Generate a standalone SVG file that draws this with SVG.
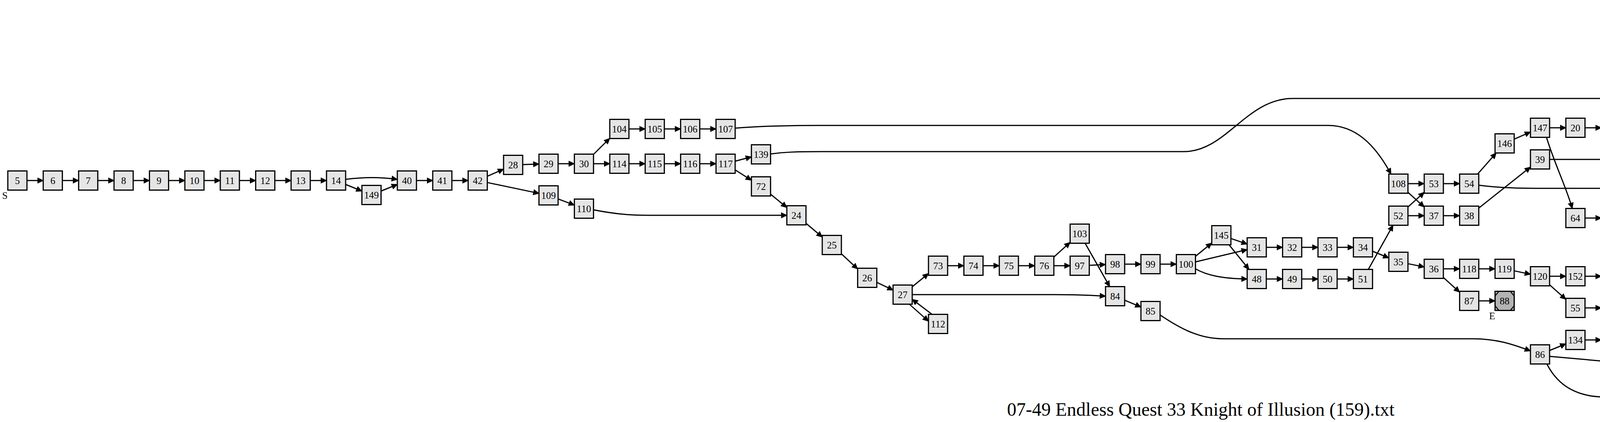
<svg xmlns="http://www.w3.org/2000/svg" width="6148" height="1080" viewBox="0 0 6148 1080">
<style>
.node rect{fill:#e5e5e5;stroke:#000;stroke-width:3}
.end rect{fill:#b3b3b3}
.node text{font-family:"Liberation Serif","Times New Roman",serif;font-size:25px;text-anchor:middle;fill:#000}
#edges path{fill:none;stroke:#000;stroke-width:3;marker-end:url(#ah)}
.title{font-family:"Liberation Serif","Times New Roman",serif;font-size:48px;text-anchor:middle;fill:#000}
</style>
<defs>
<marker id="ah" markerUnits="userSpaceOnUse" markerWidth="18" markerHeight="16" refX="14" refY="6.5" orient="auto" overflow="visible"><path d="M0,0 L14,6.5 L0,13 Z" fill="#000" stroke="#000" stroke-width="1.5"/></marker>
<polygon id="oct" points="-14.5,-24.5 14.5,-24.5 24.5,-12.5 24.5,12.5 14.5,24.5 -14.5,24.5 -24.5,12.5 -24.5,-12.5" fill="none" stroke="#000" stroke-width="2.5"/>
</defs>
<rect width="6148" height="1080" fill="#fff"/>
<g id="edges">
<path d="M69,462 L110.65,462"/>
<path d="M159.65,462 L201.3,462"/>
<path d="M250.3,462 L291.95,462"/>
<path d="M340.95,462 L382.6,462"/>
<path d="M431.6,462 L473.25,462"/>
<path d="M522.25,462 L563.9,462"/>
<path d="M612.9,462 L654.55,462"/>
<path d="M703.55,462 L745.2,462"/>
<path d="M794.2,462 L835.85,462"/>
<path d="M884.85,459 C930,453 975,453 1017.15,459"/>
<path d="M884.85,472 L926.5,489"/>
<path d="M975.5,489 L1017.15,472"/>
<path d="M1066.15,462 L1107.8,462"/>
<path d="M1156.8,462 L1198.45,462"/>
<path d="M1247.45,451.2 L1289.1,432.8"/>
<path d="M1247.45,467.1 L1379.75,494.9"/>
<path d="M1338.1,421.2 L1379.75,419.8"/>
<path d="M1428.75,419 L1470.4,419"/>
<path d="M1519.4,395 L1561.05,354"/>
<path d="M1519.4,419 L1561.05,419"/>
<path d="M1610.05,330 L1651.7,330"/>
<path d="M1700.7,330 L1742.35,330"/>
<path d="M1791.35,330 L1833,330"/>
<path d="M1610.05,419 L1651.7,419"/>
<path d="M1700.7,419 L1742.35,419"/>
<path d="M1791.35,419 L1833,419"/>
<path d="M1882,412.5 L1923.65,401.5"/>
<path d="M1882,434.7 L1923.65,461.3"/>
<path d="M1972.65,497 L2014.3,531"/>
<path d="M1428.75,509.2 L1470.4,524.8"/>
<path d="M1519.4,537 C1570,547 1610,551 1660,551 L2014.3,551"/>
<path d="M1882,328 C1950,322 2020,321 2100,321 L3400,321 C3470,321 3520,370 3561,445.5"/>
<path d="M1972.65,394 C2010,389 2040,388 2100,388 L3030,388 C3140,388 3190,252 3310,252 L4643.15,252"/>
<path d="M2063.3,571.5 L2104.95,606.5"/>
<path d="M2153.95,649.7 L2195.6,688.3"/>
<path d="M2244.6,722.6 L2286.25,742.4"/>
<path d="M2335.25,734 L2376.9,700"/>
<path d="M2328,778.5 L2376.9,822"/>
<path d="M2386,804.5 L2335.25,766"/>
<path d="M2335.25,754 L2700,754 C2760,754 2800,756 2830.15,758"/>
<path d="M2425.9,680 L2467.55,680"/>
<path d="M2516.55,680 L2558.2,680"/>
<path d="M2607.2,680 L2648.85,680"/>
<path d="M2697.85,657.8 L2739.5,620.2"/>
<path d="M2697.85,680 L2739.5,680"/>
<path d="M2788.5,679 L2830.15,677"/>
<path d="M2777.9,622.5 L2840.8,733.5"/>
<path d="M2879.15,676 L2920.8,676"/>
<path d="M2969.8,676 L3011.45,676"/>
<path d="M2879.15,768.3 L2920.8,785.7"/>
<path d="M2969.8,806 C3020,840 3070,867 3130,867 L3770,867 C3830,867 3870,880 3917.95,898"/>
<path d="M3060.45,656 L3102.1,622"/>
<path d="M3060.45,670.2 L3192.75,638.8"/>
<path d="M3060.45,688 C3090,705 3130,713 3192.75,714"/>
<path d="M3151.1,610.4 L3192.75,624.6"/>
<path d="M3146.4,626.5 L3197.4,689.5"/>
<path d="M3241.75,633 L3283.4,633"/>
<path d="M3332.4,633 L3374.05,633"/>
<path d="M3423.05,633 L3464.7,633"/>
<path d="M3241.75,714 L3283.4,714"/>
<path d="M3332.4,714 L3374.05,714"/>
<path d="M3423.05,714 L3464.7,714"/>
<path d="M3513.7,643 L3555.35,660"/>
<path d="M3502.9,689.5 L3566.1,576.5"/>
<path d="M3604.35,470 L3646,470"/>
<path d="M3604.35,492.2 L3646,529.8"/>
<path d="M3604.35,529.8 L3646,492.2"/>
<path d="M3604.35,552 L3646,552"/>
<path d="M3695,470 L3736.65,470"/>
<path d="M3695,552 L3736.65,552"/>
<path d="M3782.7,445.5 L3830.2,391.5"/>
<path d="M3785.65,474 C3830,480 3870,482 3930,482 L4300,482 C4420,482 4500,540 4560,614.5"/>
<path d="M3785.65,532.5 L3917.95,427.5"/>
<path d="M3876.3,356.2 L3917.95,337.8"/>
<path d="M3966.95,327 L4008.6,327"/>
<path d="M3959,351.5 C3980,420 4010,480 4025,533.5"/>
<path d="M3966.95,408 L4371.2,408"/>
<path d="M3604.35,674.9 L3646,683.1"/>
<path d="M3695,688 L3736.65,688"/>
<path d="M3695,710.2 L3736.65,747.8"/>
<path d="M3785.65,770 L3827.3,770"/>
<path d="M3785.65,688 L3827.3,688"/>
<path d="M3876.3,693.1 L3917.95,701.9"/>
<path d="M3966.95,707 L4008.6,707"/>
<path d="M3966.95,728.9 L4008.6,766.1"/>
<path d="M4057.6,707 L4099.25,707"/>
<path d="M4148.25,707 L4189.9,707"/>
<path d="M4057.6,788 L4099.25,788"/>
<path d="M4148.25,788 L4189.9,788"/>
<path d="M4238.9,785.3 L4280.55,780.7"/>
<path d="M4329.55,795 C4370,825 4410,855 4461.85,868"/>
<path d="M3966.95,897 L4008.6,880"/>
<path d="M3966.95,912 L4280.55,940"/>
<path d="M3960,931.5 C3990,990 4040,1016 4110,1016 L4260,1016 C4335,1016 4358,985 4361,920 L4363,670 C4364,635 4370,605 4377,582.5"/>
<path d="M4057.6,870 L4099.25,870"/>
<path d="M4148.25,870 L4189.9,870"/>
<path d="M4238.9,867 L4280.55,862"/>
<path d="M4238.9,888.9 L4280.55,921.1"/>
<path d="M4320,915.5 L4380.8,815.5"/>
<path d="M4420.2,790 L4461.85,789"/>
<path d="M4501.2,763.5 L4562.1,663.5"/>
<path d="M4057.6,327 L4099.25,327"/>
<path d="M4148.25,327 L4189.9,327"/>
<path d="M4238.9,327 L4280.55,327"/>
<path d="M4329.55,327 L4461.85,327"/>
<path d="M4329.55,348.9 L4371.2,386.1"/>
<path d="M4510.85,327 L4552.5,327"/>
<path d="M4601.5,327 L4850,327 C4920,327 4960,335 5005.75,344"/>
<path d="M4420.2,413 L4733.8,480"/>
<path d="M4057.6,558 L4099.25,558"/>
<path d="M4148.25,558 L4189.9,558"/>
<path d="M4238.9,558 L4280.55,558"/>
<path d="M4329.55,558 L4371.2,558"/>
<path d="M4148.25,572.7 L4280.55,652.3"/>
<path d="M4329.55,579.9 L4371.2,617.1"/>
<path d="M4420.2,539.6 L4461.85,508.4"/>
<path d="M4510.85,490 L4552.5,490"/>
<path d="M4420.2,639 L4461.85,639"/>
<path d="M4510.85,639 L4552.5,639"/>
<path d="M4329.55,672 C4380,690 4420,693 4460,690 C4500,687 4530,678 4562,663.5"/>
<path d="M4586.4,614.5 L4658.2,427.5"/>
<path d="M4692.15,403 L4733.8,403"/>
<path d="M4782.8,403 L4824.45,403"/>
<path d="M4873.45,403 L4915.1,403"/>
<path d="M4692.15,424.6 L4733.8,461.4"/>
<path d="M4782.8,483 L4824.45,483"/>
<path d="M4873.45,483 L4915.1,483"/>
<path d="M4964.1,473.8 L5005.75,458.2"/>
<path d="M4510,845.5 L4644,706.5"/>
<path d="M4692.15,672 C4730,645 4770,627 4840,627 L5120,627 C5200,627 5250,590 5270,540 C5285,505 5290,480 5294,458.5"/>
<path d="M5049.6,424.5 L5101.6,358.5"/>
<path d="M5054.75,440.1 L5096.4,424.9"/>
<path d="M5054.75,461.7 L5096.4,483.3"/>
<path d="M5054.75,368.6 L5096.4,398.4"/>
<path d="M5145.4,356.2 L5187.05,393.8"/>
<path d="M5135,391.5 L5199,208.5"/>
<path d="M5135,471.5 L5196,358.5"/>
<path d="M5236.05,334 L5277.7,334"/>
<path d="M5326.7,330.4 L5368.35,319.6"/>
<path d="M5236.05,419.6 L5277.7,430.4"/>
<path d="M5326.7,434 L5368.35,434"/>
<path d="M5417.35,434 L5459,434"/>
<path d="M5508,434 L5549.65,434"/>
<path d="M5598.65,434 L5640.3,434"/>
<path d="M5689.3,434 L5730.95,434"/>
<path d="M5779.95,434 L5821.6,434"/>
<path d="M5870.6,434 L5912.25,434"/>
<path d="M5961.25,422.9 L6002.9,404.1"/>
<path d="M5961.25,444.8 L6002.9,463.2"/>
<path d="M6051.9,393 L6093.55,393"/>
<path d="M6051.9,474 L6093.55,474"/>
<path d="M5417.35,316 L5459,316"/>
<path d="M5508,316 L5549.65,316"/>
<path d="M4692.15,233.6 L4733.8,202.4"/>
<path d="M4692.15,254 C4740,257 4770,258 4820,258 L5210,258 C5280,258 5330,275 5368.35,303"/>
<path d="M4782.8,184 L4824.45,184"/>
<path d="M4873.45,184 L4915.1,184"/>
<path d="M4964.1,184 L5005.75,184"/>
<path d="M5054.75,184 L5096.4,184"/>
<path d="M5145.4,184 L5187.05,184"/>
<path d="M5140,159.5 C5180,120 5260,109 5350,109 L5459,109"/>
<path d="M5226.4,159.5 L5287.3,59.5"/>
<path d="M5326.7,35 L5368.35,35"/>
<path d="M5417.35,33.4 L5459,30.6"/>
<path d="M5417.35,55.3 L5459,89.7"/>
<path d="M5508,29 L5549.65,29"/>
<path d="M5598.65,29 L5640.3,29"/>
<path d="M5689.3,29 L5730.95,29"/>
<path d="M5779.95,29 L5821.6,29"/>
<path d="M5870.6,29 L5912.25,29"/>
<path d="M5961.25,29 L6002.9,29"/>
<path d="M5508,110 L5549.65,110"/>
<path d="M5598.65,110 L5640.3,110"/>
<path d="M5689.3,110 L5730.95,110"/>
</g>
<g id="nodes">
<g id="n5" class="node" transform="translate(44.5,462)"><rect x="-24.5" y="-24.5" width="49" height="49"/><text y="9">5</text><text x="-32" y="46.5">S</text></g>
<g id="n6" class="node" transform="translate(135.15,462)"><rect x="-24.5" y="-24.5" width="49" height="49"/><text y="9">6</text></g>
<g id="n7" class="node" transform="translate(225.8,462)"><rect x="-24.5" y="-24.5" width="49" height="49"/><text y="9">7</text></g>
<g id="n8" class="node" transform="translate(316.45,462)"><rect x="-24.5" y="-24.5" width="49" height="49"/><text y="9">8</text></g>
<g id="n9" class="node" transform="translate(407.1,462)"><rect x="-24.5" y="-24.5" width="49" height="49"/><text y="9">9</text></g>
<g id="n10" class="node" transform="translate(497.75,462)"><rect x="-24.5" y="-24.5" width="49" height="49"/><text y="9">10</text></g>
<g id="n11" class="node" transform="translate(588.4,462)"><rect x="-24.5" y="-24.5" width="49" height="49"/><text y="9">11</text></g>
<g id="n12" class="node" transform="translate(679.05,462)"><rect x="-24.5" y="-24.5" width="49" height="49"/><text y="9">12</text></g>
<g id="n13" class="node" transform="translate(769.7,462)"><rect x="-24.5" y="-24.5" width="49" height="49"/><text y="9">13</text></g>
<g id="n14" class="node" transform="translate(860.35,462)"><rect x="-24.5" y="-24.5" width="49" height="49"/><text y="9">14</text></g>
<g id="n149" class="node" transform="translate(951,499)"><rect x="-24.5" y="-24.5" width="49" height="49"/><text y="9">149</text></g>
<g id="n40" class="node" transform="translate(1041.65,462)"><rect x="-24.5" y="-24.5" width="49" height="49"/><text y="9">40</text></g>
<g id="n41" class="node" transform="translate(1132.3,462)"><rect x="-24.5" y="-24.5" width="49" height="49"/><text y="9">41</text></g>
<g id="n42" class="node" transform="translate(1222.95,462)"><rect x="-24.5" y="-24.5" width="49" height="49"/><text y="9">42</text></g>
<g id="n28" class="node" transform="translate(1313.6,422)"><rect x="-24.5" y="-24.5" width="49" height="49"/><text y="9">28</text></g>
<g id="n109" class="node" transform="translate(1404.25,500)"><rect x="-24.5" y="-24.5" width="49" height="49"/><text y="9">109</text></g>
<g id="n29" class="node" transform="translate(1404.25,419)"><rect x="-24.5" y="-24.5" width="49" height="49"/><text y="9">29</text></g>
<g id="n30" class="node" transform="translate(1494.9,419)"><rect x="-24.5" y="-24.5" width="49" height="49"/><text y="9">30</text></g>
<g id="n110" class="node" transform="translate(1494.9,534)"><rect x="-24.5" y="-24.5" width="49" height="49"/><text y="9">110</text></g>
<g id="n104" class="node" transform="translate(1585.55,330)"><rect x="-24.5" y="-24.5" width="49" height="49"/><text y="9">104</text></g>
<g id="n114" class="node" transform="translate(1585.55,419)"><rect x="-24.5" y="-24.5" width="49" height="49"/><text y="9">114</text></g>
<g id="n105" class="node" transform="translate(1676.2,330)"><rect x="-24.5" y="-24.5" width="49" height="49"/><text y="9">105</text></g>
<g id="n115" class="node" transform="translate(1676.2,419)"><rect x="-24.5" y="-24.5" width="49" height="49"/><text y="9">115</text></g>
<g id="n106" class="node" transform="translate(1766.85,330)"><rect x="-24.5" y="-24.5" width="49" height="49"/><text y="9">106</text></g>
<g id="n116" class="node" transform="translate(1766.85,419)"><rect x="-24.5" y="-24.5" width="49" height="49"/><text y="9">116</text></g>
<g id="n107" class="node" transform="translate(1857.5,330)"><rect x="-24.5" y="-24.5" width="49" height="49"/><text y="9">107</text></g>
<g id="n117" class="node" transform="translate(1857.5,419)"><rect x="-24.5" y="-24.5" width="49" height="49"/><text y="9">117</text></g>
<g id="n139" class="node" transform="translate(1948.15,395)"><rect x="-24.5" y="-24.5" width="49" height="49"/><text y="9">139</text></g>
<g id="n72" class="node" transform="translate(1948.15,477)"><rect x="-24.5" y="-24.5" width="49" height="49"/><text y="9">72</text></g>
<g id="n24" class="node" transform="translate(2038.8,551)"><rect x="-24.5" y="-24.5" width="49" height="49"/><text y="9">24</text></g>
<g id="n25" class="node" transform="translate(2129.45,627)"><rect x="-24.5" y="-24.5" width="49" height="49"/><text y="9">25</text></g>
<g id="n26" class="node" transform="translate(2220.1,711)"><rect x="-24.5" y="-24.5" width="49" height="49"/><text y="9">26</text></g>
<g id="n27" class="node" transform="translate(2310.75,754)"><rect x="-24.5" y="-24.5" width="49" height="49"/><text y="9">27</text></g>
<g id="n73" class="node" transform="translate(2401.4,680)"><rect x="-24.5" y="-24.5" width="49" height="49"/><text y="9">73</text></g>
<g id="n112" class="node" transform="translate(2401.4,829)"><rect x="-24.5" y="-24.5" width="49" height="49"/><text y="9">112</text></g>
<g id="n74" class="node" transform="translate(2492.05,680)"><rect x="-24.5" y="-24.5" width="49" height="49"/><text y="9">74</text></g>
<g id="n75" class="node" transform="translate(2582.7,680)"><rect x="-24.5" y="-24.5" width="49" height="49"/><text y="9">75</text></g>
<g id="n76" class="node" transform="translate(2673.35,680)"><rect x="-24.5" y="-24.5" width="49" height="49"/><text y="9">76</text></g>
<g id="n103" class="node" transform="translate(2764,598)"><rect x="-24.5" y="-24.5" width="49" height="49"/><text y="9">103</text></g>
<g id="n97" class="node" transform="translate(2764,680)"><rect x="-24.5" y="-24.5" width="49" height="49"/><text y="9">97</text></g>
<g id="n98" class="node" transform="translate(2854.65,676)"><rect x="-24.5" y="-24.5" width="49" height="49"/><text y="9">98</text></g>
<g id="n84" class="node" transform="translate(2854.65,758)"><rect x="-24.5" y="-24.5" width="49" height="49"/><text y="9">84</text></g>
<g id="n99" class="node" transform="translate(2945.3,676)"><rect x="-24.5" y="-24.5" width="49" height="49"/><text y="9">99</text></g>
<g id="n85" class="node" transform="translate(2945.3,796)"><rect x="-24.5" y="-24.5" width="49" height="49"/><text y="9">85</text></g>
<g id="n100" class="node" transform="translate(3035.95,676)"><rect x="-24.5" y="-24.5" width="49" height="49"/><text y="9">100</text></g>
<g id="n145" class="node" transform="translate(3126.6,602)"><rect x="-24.5" y="-24.5" width="49" height="49"/><text y="9">145</text></g>
<g id="n31" class="node" transform="translate(3217.25,633)"><rect x="-24.5" y="-24.5" width="49" height="49"/><text y="9">31</text></g>
<g id="n48" class="node" transform="translate(3217.25,714)"><rect x="-24.5" y="-24.5" width="49" height="49"/><text y="9">48</text></g>
<g id="n32" class="node" transform="translate(3307.9,633)"><rect x="-24.5" y="-24.5" width="49" height="49"/><text y="9">32</text></g>
<g id="n49" class="node" transform="translate(3307.9,714)"><rect x="-24.5" y="-24.5" width="49" height="49"/><text y="9">49</text></g>
<g id="n33" class="node" transform="translate(3398.55,633)"><rect x="-24.5" y="-24.5" width="49" height="49"/><text y="9">33</text></g>
<g id="n50" class="node" transform="translate(3398.55,714)"><rect x="-24.5" y="-24.5" width="49" height="49"/><text y="9">50</text></g>
<g id="n34" class="node" transform="translate(3489.2,633)"><rect x="-24.5" y="-24.5" width="49" height="49"/><text y="9">34</text></g>
<g id="n51" class="node" transform="translate(3489.2,714)"><rect x="-24.5" y="-24.5" width="49" height="49"/><text y="9">51</text></g>
<g id="n108" class="node" transform="translate(3579.85,470)"><rect x="-24.5" y="-24.5" width="49" height="49"/><text y="9">108</text></g>
<g id="n52" class="node" transform="translate(3579.85,552)"><rect x="-24.5" y="-24.5" width="49" height="49"/><text y="9">52</text></g>
<g id="n35" class="node" transform="translate(3579.85,670)"><rect x="-24.5" y="-24.5" width="49" height="49"/><text y="9">35</text></g>
<g id="n53" class="node" transform="translate(3670.5,470)"><rect x="-24.5" y="-24.5" width="49" height="49"/><text y="9">53</text></g>
<g id="n37" class="node" transform="translate(3670.5,552)"><rect x="-24.5" y="-24.5" width="49" height="49"/><text y="9">37</text></g>
<g id="n36" class="node" transform="translate(3670.5,688)"><rect x="-24.5" y="-24.5" width="49" height="49"/><text y="9">36</text></g>
<g id="n54" class="node" transform="translate(3761.15,470)"><rect x="-24.5" y="-24.5" width="49" height="49"/><text y="9">54</text></g>
<g id="n38" class="node" transform="translate(3761.15,552)"><rect x="-24.5" y="-24.5" width="49" height="49"/><text y="9">38</text></g>
<g id="n118" class="node" transform="translate(3761.15,688)"><rect x="-24.5" y="-24.5" width="49" height="49"/><text y="9">118</text></g>
<g id="n87" class="node" transform="translate(3761.15,770)"><rect x="-24.5" y="-24.5" width="49" height="49"/><text y="9">87</text></g>
<g id="n146" class="node" transform="translate(3851.8,367)"><rect x="-24.5" y="-24.5" width="49" height="49"/><text y="9">146</text></g>
<g id="n119" class="node" transform="translate(3851.8,688)"><rect x="-24.5" y="-24.5" width="49" height="49"/><text y="9">119</text></g>
<g id="n88" class="node end" transform="translate(3851.8,770)"><rect x="-24.5" y="-24.5" width="49" height="49"/><use href="#oct"/><text y="9">88</text><text x="-32" y="46.5">E</text></g>
<g id="n147" class="node" transform="translate(3942.45,327)"><rect x="-24.5" y="-24.5" width="49" height="49"/><text y="9">147</text></g>
<g id="n39" class="node" transform="translate(3942.45,408)"><rect x="-24.5" y="-24.5" width="49" height="49"/><text y="9">39</text></g>
<g id="n120" class="node" transform="translate(3942.45,707)"><rect x="-24.5" y="-24.5" width="49" height="49"/><text y="9">120</text></g>
<g id="n86" class="node" transform="translate(3942.45,907)"><rect x="-24.5" y="-24.5" width="49" height="49"/><text y="9">86</text></g>
<g id="n20" class="node" transform="translate(4033.1,327)"><rect x="-24.5" y="-24.5" width="49" height="49"/><text y="9">20</text></g>
<g id="n64" class="node" transform="translate(4033.1,558)"><rect x="-24.5" y="-24.5" width="49" height="49"/><text y="9">64</text></g>
<g id="n152" class="node" transform="translate(4033.1,707)"><rect x="-24.5" y="-24.5" width="49" height="49"/><text y="9">152</text></g>
<g id="n55" class="node" transform="translate(4033.1,788)"><rect x="-24.5" y="-24.5" width="49" height="49"/><text y="9">55</text></g>
<g id="n134" class="node" transform="translate(4033.1,870)"><rect x="-24.5" y="-24.5" width="49" height="49"/><text y="9">134</text></g>
<g id="n21" class="node" transform="translate(4123.75,327)"><rect x="-24.5" y="-24.5" width="49" height="49"/><text y="9">21</text></g>
<g id="n65" class="node" transform="translate(4123.75,558)"><rect x="-24.5" y="-24.5" width="49" height="49"/><text y="9">65</text></g>
<g id="n153" class="node" transform="translate(4123.75,707)"><rect x="-24.5" y="-24.5" width="49" height="49"/><text y="9">153</text></g>
<g id="n56" class="node" transform="translate(4123.75,788)"><rect x="-24.5" y="-24.5" width="49" height="49"/><text y="9">56</text></g>
<g id="n135" class="node" transform="translate(4123.75,870)"><rect x="-24.5" y="-24.5" width="49" height="49"/><text y="9">135</text></g>
<g id="n22" class="node" transform="translate(4214.4,327)"><rect x="-24.5" y="-24.5" width="49" height="49"/><text y="9">22</text></g>
<g id="n128" class="node" transform="translate(4214.4,558)"><rect x="-24.5" y="-24.5" width="49" height="49"/><text y="9">128</text></g>
<g id="n154" class="node end" transform="translate(4214.4,707)"><rect x="-24.5" y="-24.5" width="49" height="49"/><use href="#oct"/><text y="9">154</text><text x="-32" y="46.5">E</text></g>
<g id="n57" class="node" transform="translate(4214.4,788)"><rect x="-24.5" y="-24.5" width="49" height="49"/><text y="9">57</text></g>
<g id="n136" class="node" transform="translate(4214.4,870)"><rect x="-24.5" y="-24.5" width="49" height="49"/><text y="9">136</text></g>
<g id="n23" class="node" transform="translate(4305.05,327)"><rect x="-24.5" y="-24.5" width="49" height="49"/><text y="9">23</text></g>
<g id="n129" class="node" transform="translate(4305.05,558)"><rect x="-24.5" y="-24.5" width="49" height="49"/><text y="9">129</text></g>
<g id="n111" class="node" transform="translate(4305.05,667)"><rect x="-24.5" y="-24.5" width="49" height="49"/><text y="9">111</text></g>
<g id="n58" class="node" transform="translate(4305.05,778)"><rect x="-24.5" y="-24.5" width="49" height="49"/><text y="9">58</text></g>
<g id="n141" class="node end" transform="translate(4305.05,859)"><rect x="-24.5" y="-24.5" width="49" height="49"/><use href="#oct"/><text y="9">141</text><text x="-32" y="46.5">E</text></g>
<g id="n125" class="node" transform="translate(4305.05,940)"><rect x="-24.5" y="-24.5" width="49" height="49"/><text y="9">125</text></g>
<g id="n113" class="node" transform="translate(4395.7,408)"><rect x="-24.5" y="-24.5" width="49" height="49"/><text y="9">113</text></g>
<g id="n17" class="node" transform="translate(4395.7,558)"><rect x="-24.5" y="-24.5" width="49" height="49"/><text y="9">17</text></g>
<g id="n101" class="node" transform="translate(4395.7,639)"><rect x="-24.5" y="-24.5" width="49" height="49"/><text y="9">101</text></g>
<g id="n126" class="node" transform="translate(4395.7,791)"><rect x="-24.5" y="-24.5" width="49" height="49"/><text y="9">126</text></g>
<g id="n142" class="node" transform="translate(4486.35,327)"><rect x="-24.5" y="-24.5" width="49" height="49"/><text y="9">142</text></g>
<g id="n18" class="node" transform="translate(4486.35,490)"><rect x="-24.5" y="-24.5" width="49" height="49"/><text y="9">18</text></g>
<g id="n102" class="node" transform="translate(4486.35,639)"><rect x="-24.5" y="-24.5" width="49" height="49"/><text y="9">102</text></g>
<g id="n127" class="node" transform="translate(4486.35,788)"><rect x="-24.5" y="-24.5" width="49" height="49"/><text y="9">127</text></g>
<g id="n59" class="node" transform="translate(4486.35,870)"><rect x="-24.5" y="-24.5" width="49" height="49"/><text y="9">59</text></g>
<g id="n143" class="node" transform="translate(4577,327)"><rect x="-24.5" y="-24.5" width="49" height="49"/><text y="9">143</text></g>
<g id="n19" class="node end" transform="translate(4577,490)"><rect x="-24.5" y="-24.5" width="49" height="49"/><use href="#oct"/><text y="9">19</text><text x="-32" y="46.5">E</text></g>
<g id="n15" class="node" transform="translate(4577,639)"><rect x="-24.5" y="-24.5" width="49" height="49"/><text y="9">15</text></g>
<g id="n140" class="node" transform="translate(4667.65,252)"><rect x="-24.5" y="-24.5" width="49" height="49"/><text y="9">140</text></g>
<g id="n16" class="node" transform="translate(4667.65,403)"><rect x="-24.5" y="-24.5" width="49" height="49"/><text y="9">16</text></g>
<g id="n60" class="node" transform="translate(4667.65,682)"><rect x="-24.5" y="-24.5" width="49" height="49"/><text y="9">60</text></g>
<g id="n43" class="node" transform="translate(4758.3,184)"><rect x="-24.5" y="-24.5" width="49" height="49"/><text y="9">43</text></g>
<g id="n69" class="node" transform="translate(4758.3,403)"><rect x="-24.5" y="-24.5" width="49" height="49"/><text y="9">69</text></g>
<g id="n121" class="node" transform="translate(4758.3,483)"><rect x="-24.5" y="-24.5" width="49" height="49"/><text y="9">121</text></g>
<g id="n44" class="node" transform="translate(4848.95,184)"><rect x="-24.5" y="-24.5" width="49" height="49"/><text y="9">44</text></g>
<g id="n70" class="node" transform="translate(4848.95,403)"><rect x="-24.5" y="-24.5" width="49" height="49"/><text y="9">70</text></g>
<g id="n122" class="node" transform="translate(4848.95,483)"><rect x="-24.5" y="-24.5" width="49" height="49"/><text y="9">122</text></g>
<g id="n45" class="node" transform="translate(4939.6,184)"><rect x="-24.5" y="-24.5" width="49" height="49"/><text y="9">45</text></g>
<g id="n71" class="node end" transform="translate(4939.6,403)"><rect x="-24.5" y="-24.5" width="49" height="49"/><use href="#oct"/><text y="9">71</text><text x="-32" y="46.5">E</text></g>
<g id="n123" class="node" transform="translate(4939.6,483)"><rect x="-24.5" y="-24.5" width="49" height="49"/><text y="9">123</text></g>
<g id="n46" class="node" transform="translate(5030.25,184)"><rect x="-24.5" y="-24.5" width="49" height="49"/><text y="9">46</text></g>
<g id="n144" class="node" transform="translate(5030.25,351)"><rect x="-24.5" y="-24.5" width="49" height="49"/><text y="9">144</text></g>
<g id="n124" class="node" transform="translate(5030.25,449)"><rect x="-24.5" y="-24.5" width="49" height="49"/><text y="9">124</text></g>
<g id="n47" class="node" transform="translate(5120.9,184)"><rect x="-24.5" y="-24.5" width="49" height="49"/><text y="9">47</text></g>
<g id="n137" class="node" transform="translate(5120.9,334)"><rect x="-24.5" y="-24.5" width="49" height="49"/><text y="9">137</text></g>
<g id="n148" class="node" transform="translate(5120.9,416)"><rect x="-24.5" y="-24.5" width="49" height="49"/><text y="9">148</text></g>
<g id="n155" class="node" transform="translate(5120.9,496)"><rect x="-24.5" y="-24.5" width="49" height="49"/><text y="9">155</text></g>
<g id="n61" class="node" transform="translate(5211.55,184)"><rect x="-24.5" y="-24.5" width="49" height="49"/><text y="9">61</text></g>
<g id="n156" class="node" transform="translate(5211.55,334)"><rect x="-24.5" y="-24.5" width="49" height="49"/><text y="9">156</text></g>
<g id="n138" class="node" transform="translate(5211.55,416)"><rect x="-24.5" y="-24.5" width="49" height="49"/><text y="9">138</text></g>
<g id="n62" class="node" transform="translate(5302.2,35)"><rect x="-24.5" y="-24.5" width="49" height="49"/><text y="9">62</text></g>
<g id="n157" class="node" transform="translate(5302.2,334)"><rect x="-24.5" y="-24.5" width="49" height="49"/><text y="9">157</text></g>
<g id="n89" class="node" transform="translate(5302.2,434)"><rect x="-24.5" y="-24.5" width="49" height="49"/><text y="9">89</text></g>
<g id="n63" class="node" transform="translate(5392.85,35)"><rect x="-24.5" y="-24.5" width="49" height="49"/><text y="9">63</text></g>
<g id="n66" class="node" transform="translate(5392.85,316)"><rect x="-24.5" y="-24.5" width="49" height="49"/><text y="9">66</text></g>
<g id="n90" class="node" transform="translate(5392.85,434)"><rect x="-24.5" y="-24.5" width="49" height="49"/><text y="9">90</text></g>
<g id="n77" class="node" transform="translate(5483.5,29)"><rect x="-24.5" y="-24.5" width="49" height="49"/><text y="9">77</text></g>
<g id="n130" class="node" transform="translate(5483.5,110)"><rect x="-24.5" y="-24.5" width="49" height="49"/><text y="9">130</text></g>
<g id="n67" class="node" transform="translate(5483.5,316)"><rect x="-24.5" y="-24.5" width="49" height="49"/><text y="9">67</text></g>
<g id="n91" class="node" transform="translate(5483.5,434)"><rect x="-24.5" y="-24.5" width="49" height="49"/><text y="9">91</text></g>
<g id="n78" class="node" transform="translate(5574.15,29)"><rect x="-24.5" y="-24.5" width="49" height="49"/><text y="9">78</text></g>
<g id="n131" class="node" transform="translate(5574.15,110)"><rect x="-24.5" y="-24.5" width="49" height="49"/><text y="9">131</text></g>
<g id="n68" class="node end" transform="translate(5574.15,316)"><rect x="-24.5" y="-24.5" width="49" height="49"/><use href="#oct"/><text y="9">68</text><text x="-32" y="46.5">E</text></g>
<g id="n92" class="node" transform="translate(5574.15,434)"><rect x="-24.5" y="-24.5" width="49" height="49"/><text y="9">92</text></g>
<g id="n79" class="node" transform="translate(5664.8,29)"><rect x="-24.5" y="-24.5" width="49" height="49"/><text y="9">79</text></g>
<g id="n132" class="node" transform="translate(5664.8,110)"><rect x="-24.5" y="-24.5" width="49" height="49"/><text y="9">132</text></g>
<g id="n93" class="node" transform="translate(5664.8,434)"><rect x="-24.5" y="-24.5" width="49" height="49"/><text y="9">93</text></g>
<g id="n80" class="node" transform="translate(5755.45,29)"><rect x="-24.5" y="-24.5" width="49" height="49"/><text y="9">80</text></g>
<g id="n133" class="node end" transform="translate(5755.45,110)"><rect x="-24.5" y="-24.5" width="49" height="49"/><use href="#oct"/><text y="9">133</text><text x="-32" y="46.5">E</text></g>
<g id="n94" class="node" transform="translate(5755.45,434)"><rect x="-24.5" y="-24.5" width="49" height="49"/><text y="9">94</text></g>
<g id="n81" class="node" transform="translate(5846.1,29)"><rect x="-24.5" y="-24.5" width="49" height="49"/><text y="9">81</text></g>
<g id="n95" class="node" transform="translate(5846.1,434)"><rect x="-24.5" y="-24.5" width="49" height="49"/><text y="9">95</text></g>
<g id="n82" class="node" transform="translate(5936.75,29)"><rect x="-24.5" y="-24.5" width="49" height="49"/><text y="9">82</text></g>
<g id="n96" class="node" transform="translate(5936.75,434)"><rect x="-24.5" y="-24.5" width="49" height="49"/><text y="9">96</text></g>
<g id="n83" class="node end" transform="translate(6027.4,29)"><rect x="-24.5" y="-24.5" width="49" height="49"/><use href="#oct"/><text y="9">83</text><text x="-32" y="46.5">E</text></g>
<g id="n158" class="node" transform="translate(6027.4,393)"><rect x="-24.5" y="-24.5" width="49" height="49"/><text y="9">158</text></g>
<g id="n150" class="node" transform="translate(6027.4,474)"><rect x="-24.5" y="-24.5" width="49" height="49"/><text y="9">150</text></g>
<g id="n159" class="node end" transform="translate(6118.05,393)"><rect x="-24.5" y="-24.5" width="49" height="49"/><use href="#oct"/><text y="9">159</text><text x="-32" y="46.5">E</text></g>
<g id="n151" class="node end" transform="translate(6118.05,474)"><rect x="-24.5" y="-24.5" width="49" height="49"/><use href="#oct"/><text y="9">151</text><text x="-32" y="46.5">E</text></g>
</g>
<text class="title" x="3074" y="1064">07-49 Endless Quest 33 Knight of Illusion (159).txt</text>
</svg>
